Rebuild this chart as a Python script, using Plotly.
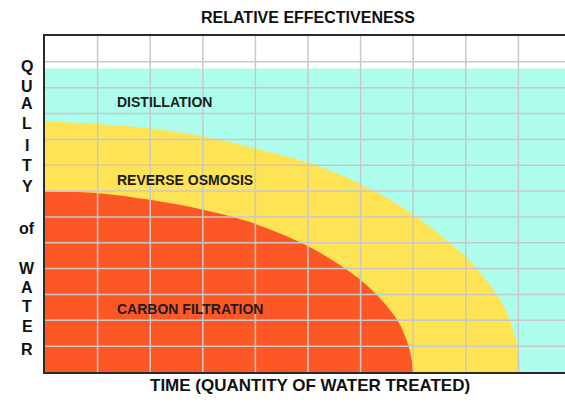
import plotly.graph_objects as go

# ---- data ----
distill_x = [0, 10.5]
distill_y = [11.74, 11.74]

ro_x = [0, 1.0, 2.03, 3.04, 4.05, 5.04, 6.02, 7.03, 8.02, 8.59, 8.82, 8.97, 9.02, 9.03]
ro_y = [9.69, 9.60, 9.42, 9.10, 8.62, 8.08, 7.25, 6.05, 4.40, 3.0, 2.1, 1.1, 0.5, 0]

carbon_x = [0, 1.0, 2.0, 3.0, 3.9, 4.9, 5.67, 6.2, 6.69, 6.88, 6.97, 7.0]
carbon_y = [6.98, 6.92, 6.66, 6.28, 5.80, 4.97, 4.05, 3.20, 2.03, 1.2, 0.5, 0]

labels = ["DISTILLATION", "REVERSE OSMOSIS", "CARBON FILTRATION"]
label_x = [1.34, 1.34, 1.34]
label_y = [10.43, 7.43, 2.44]

y_letters = ["Q", "U", "A", "L", "I", "T", "Y", "of", "W", "A", "T", "E", "R"]
y_letter_px = [66, 86, 104, 124, 145, 165, 186, 228, 268, 287, 306, 326, 349]

x_grid = list(range(1, 10))
y_grid = list(range(1, 13))

CYAN = "rgb(173,253,236)"
YELLOW = "rgb(254,227,84)"
RED = "rgb(254,87,38)"
GRID = "rgb(200,200,200)"
FONT = "Liberation Sans, Arial, sans-serif"

W, H = 565, 402
ML, MR, MT, MB = 45, 0, 36, 30
plot_w = W - ML - MR
plot_h = H - MT - MB

fig = go.Figure()
fig.add_trace(go.Scatter(x=distill_x, y=distill_y, mode="lines", line=dict(width=0, color=CYAN),
                         fill="tozeroy", fillcolor=CYAN, hoverinfo="skip", showlegend=False))
fig.add_trace(go.Scatter(x=ro_x, y=ro_y, mode="lines",
                         line=dict(width=0, color=YELLOW, shape="spline", smoothing=1.0),
                         fill="tozeroy", fillcolor=YELLOW, hoverinfo="skip", showlegend=False))
fig.add_trace(go.Scatter(x=carbon_x, y=carbon_y, mode="lines",
                         line=dict(width=0, color=RED, shape="spline", smoothing=1.0),
                         fill="tozeroy", fillcolor=RED, hoverinfo="skip", showlegend=False))

shapes = []
for gx in x_grid:
    shapes.append(dict(type="line", xref="x", yref="paper", x0=gx, x1=gx, y0=0, y1=1,
                       line=dict(color=GRID, width=1.5), layer="above"))
for gy in y_grid:
    shapes.append(dict(type="line", xref="paper", yref="y", x0=0, x1=1, y0=gy, y1=gy,
                       line=dict(color=GRID, width=1.5), layer="above"))

annotations = []
for t, lx, ly in zip(labels, label_x, label_y):
    annotations.append(dict(x=lx, y=ly, xref="x", yref="y", text=t, showarrow=False,
                            xanchor="left", yanchor="middle",
                            font=dict(family=FONT, size=14, color="#1c1c1c", weight="bold")))

for t, py in zip(y_letters, y_letter_px):
    annotations.append(dict(x=(27 - ML) / plot_w, y=(H - MB - py) / plot_h, xref="paper",
                            yref="paper", text=t, showarrow=False,
                            xanchor="center", yanchor="middle",
                            font=dict(family=FONT, size=16, color="#111", weight="bold")))

annotations.append(dict(x=(308 - ML) / plot_w, y=(H - MB - 18) / plot_h, xref="paper", yref="paper",
                        text="RELATIVE EFFECTIVENESS", showarrow=False, xanchor="center", yanchor="middle",
                        font=dict(family=FONT, size=16, color="#111", weight="bold")))
annotations.append(dict(x=(310 - ML) / plot_w, y=(H - MB - 385) / plot_h, xref="paper", yref="paper",
                        text="TIME (QUANTITY OF WATER TREATED)", showarrow=False, xanchor="center",
                        yanchor="middle",
                        font=dict(family=FONT, size=17, color="#111", weight="bold")))

fig.update_layout(
    width=W, height=H,
    margin=dict(l=ML, r=MR, t=MT, b=MB, pad=0),
    paper_bgcolor="white", plot_bgcolor="white",
    xaxis=dict(range=[0, 520 / 52.6], showgrid=False, zeroline=False, showticklabels=False,
               ticks="", showline=True, mirror=True, linecolor="#2a2a2a", linewidth=2,
               fixedrange=True),
    yaxis=dict(range=[0, 13], showgrid=False, zeroline=False, showticklabels=False,
               ticks="", showline=True, mirror=False, linecolor="#2a2a2a", linewidth=2,
               fixedrange=True),
    shapes=shapes,
    annotations=annotations,
    showlegend=False,
)

fig.write_html("out.html", config={"displayModeBar": False},
               post_script="document.body.style.margin='0';document.body.style.overflow='hidden';")
